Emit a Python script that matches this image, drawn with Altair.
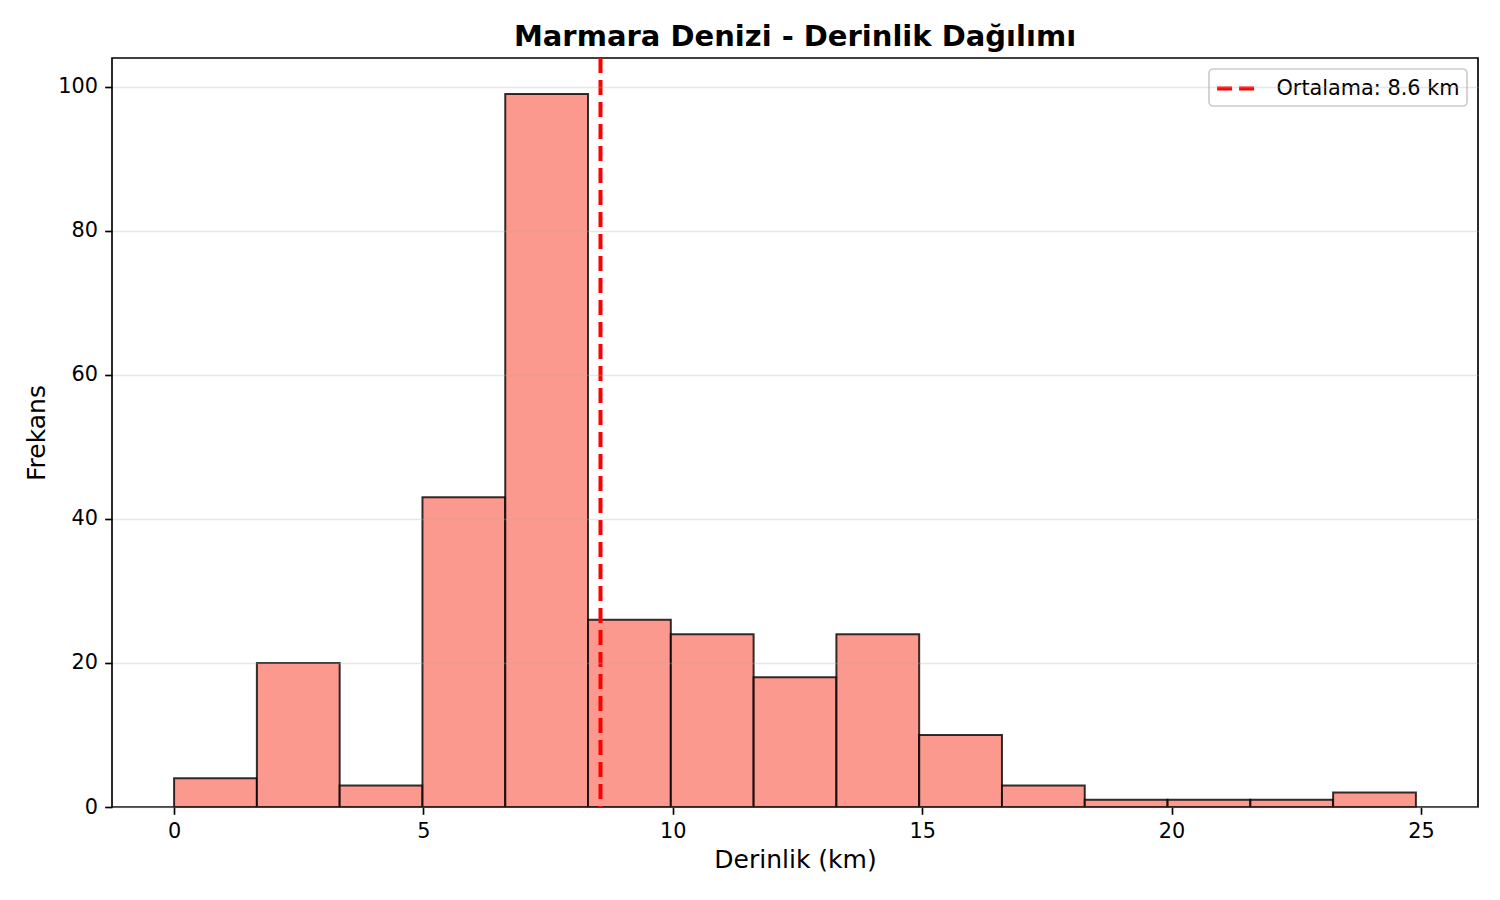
import pandas as pd
import altair as alt

# histogram bins (km) and counts
bin_start = [0.0, 1.66, 3.32, 4.98, 6.64, 8.30, 9.96, 11.62, 13.28, 14.94, 16.60, 18.26, 19.92, 21.58, 23.24]
bin_end = [1.66, 3.32, 4.98, 6.64, 8.30, 9.96, 11.62, 13.28, 14.94, 16.60, 18.26, 19.92, 21.58, 23.24, 24.90]
counts = [4, 20, 3, 43, 99, 26, 24, 18, 24, 10, 3, 1, 1, 1, 2]

mean_depth = 8.55
mean_label = "Ortalama: 8.6 km"

x_ticks = [0, 5, 10, 15, 20, 25]
y_ticks = [0, 20, 40, 60, 80, 100]

FONT = "DejaVu Sans"

hist_df = pd.DataFrame({"start": bin_start, "end": bin_end, "count": counts})
mean_df = pd.DataFrame({"mean": [mean_depth], "label": [mean_label]})

x_scale = alt.Scale(domain=[-1.245, 26.145], nice=False, zero=False)
y_scale = alt.Scale(domain=[0, 104], nice=False)

bars = alt.Chart(hist_df).mark_rect(
    fill="salmon", fillOpacity=0.8,
    stroke="black", strokeOpacity=0.8, strokeWidth=2
).encode(
    x=alt.X("start:Q", scale=x_scale, title="Derinlik (km)",
            axis=alt.Axis(values=x_ticks, grid=False, titlePadding=6)),
    x2="end:Q",
    y=alt.Y("count:Q", scale=y_scale, title="Frekans",
            axis=alt.Axis(values=y_ticks, grid=True, gridColor="#b0b0b0", gridOpacity=0.3,
                          gridWidth=1.67, titlePadding=8, zindex=1)),
    y2=alt.datum(0),
)

mean_line = alt.Chart(mean_df).mark_rule(strokeWidth=4, strokeDash=[15, 7]).encode(
    x=alt.X("mean:Q", scale=x_scale),
    color=alt.Color("label:N", scale=alt.Scale(range=["red"]),
                    legend=alt.Legend(title=None, orient="top-right", offset=11,
                                      symbolType="M-1.8,0H1.8", symbolDash=[15, 7],
                                      symbolStrokeWidth=4, symbolSize=441, symbolOffset=7.5,
                                      labelFont=FONT, labelFontSize=20.8, labelColor="black",
                                      labelLimit=400, labelOffset=28, padding=7,
                                      fillColor="white", strokeColor="#cccccc",
                                      cornerRadius=4)),
)

chart = alt.layer(bars, mean_line).properties(
    width=1366,
    height=749,
    autosize=alt.AutoSizeParams(type="none"),
    padding={"left": 104, "top": 50, "right": 14, "bottom": 85},
    title=alt.TitleParams("Marmara Denizi - Derinlik Dağılımı", font=FONT, fontSize=29,
                          fontWeight="bold", color="black", anchor="middle",
                          baseline="top", offset=4),
).configure_view(
    stroke="black", strokeWidth=1.67
).configure_legend(
    strokeWidth=1.67
).configure_axis(
    domain=False,
    labelFont=FONT, labelFontSize=20.8, labelColor="black",
    titleFont=FONT, titleFontSize=25, titleFontWeight="normal", titleColor="black",
    tickColor="black", tickWidth=1.67, tickSize=7.3, labelPadding=7.3,
)

chart.save("out.html", embed_options={"renderer": "svg", "actions": False})
